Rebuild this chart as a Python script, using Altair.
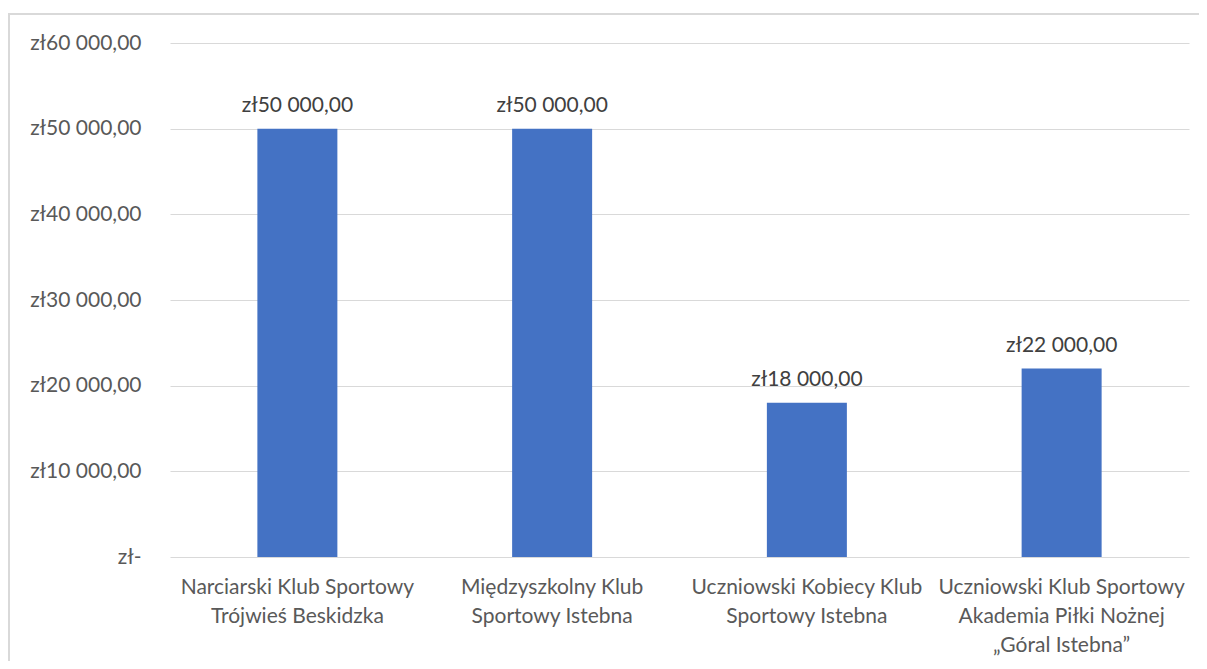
import altair as alt
import pandas as pd

categories = [
    "Narciarski Klub Sportowy|Trójwieś Beskidzka",
    "Międzyszkolny Klub|Sportowy Istebna",
    "Uczniowski Kobiecy Klub|Sportowy Istebna",
    "Uczniowski Klub Sportowy|Akademia Piłki Nożnej|„Góral Istebna”",
]
values = [50000, 50000, 18000, 22000]
bar_labels = ["zł50 000,00", "zł50 000,00", "zł18 000,00", "zł22 000,00"]
y_ticks = [0, 10000, 20000, 30000, 40000, 50000, 60000]

df = pd.DataFrame({"cat": categories, "val": values, "lab": bar_labels})

FONT = "Lato"
FS = 21
W, H = 1019, 514

x = alt.X("cat:N", sort=categories, title=None,
          scale=alt.Scale(paddingInner=0, paddingOuter=0),
          axis=alt.Axis(labelExpr="split(datum.label, '|')", labelAngle=0,
                        labelFontSize=FS, labelColor="#595959", labelFont=FONT,
                        labelLimit=400, labelPadding=19, labelLineHeight=29,
                        labelBaseline="top", ticks=False, domain=False, grid=False))
y = alt.Y("val:Q", title=None,
          scale=alt.Scale(domain=[0, 60000], nice=False),
          axis=alt.Axis(values=y_ticks,
                        labelExpr="datum.value == 0 ? 'zł-\u00a0\u00a0' : 'zł' + format(datum.value/1000, 'd') + ' 000,00'",
                        labelFontSize=FS, labelColor="#595959", labelFont=FONT,
                        labelPadding=29, ticks=False, domain=False,
                        grid=True, gridColor="#d9d9d9", gridWidth=1.2))

bars = alt.Chart(df).mark_bar(size=80, color="#4472C4").encode(x=x, y=y)
text = alt.Chart(df).mark_text(baseline="alphabetic", dy=-17, fontSize=FS,
                               font=FONT, color="#404040").encode(
    x=alt.X("cat:N", sort=categories), y="val:Q", text="lab:N")

border = alt.Chart(df).mark_rect(fill=None, stroke="#d9d9d9", strokeWidth=2, clip=False).encode(
    x=alt.value(-161), x2=alt.value(W + 40), y=alt.value(-29), y2=alt.value(H + 140))

chart = alt.layer(border, bars, text).properties(
    width=W, height=H,
    background="white",
    autosize=alt.AutoSizeParams(type="none"),
    padding={"left": 162, "top": 35, "right": 10, "bottom": 104},
).configure_view(strokeWidth=0, stroke="transparent")

chart.save("out.html", embed_options={"renderer": "svg", "actions": False})
